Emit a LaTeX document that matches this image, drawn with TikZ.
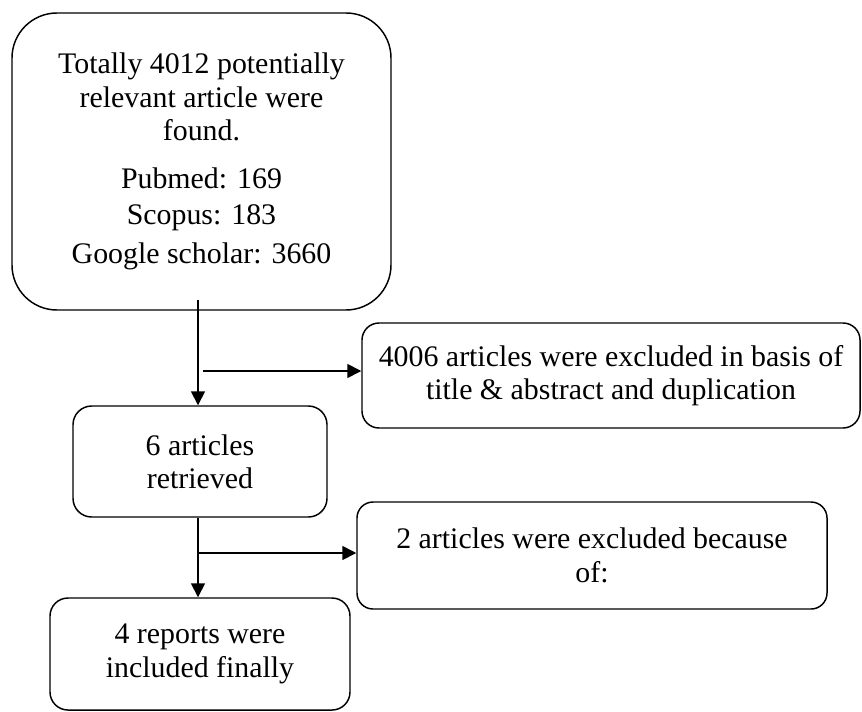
\documentclass[tikz,border=0pt]{standalone}
\usepackage{fontspec}
\setmainfont{Liberation Serif}
\usetikzlibrary{arrows.meta}
\begin{document}
\begin{tikzpicture}[x=0.75pt,y=-0.75pt,
  box/.style={draw, line width=1.1pt, align=center, inner sep=0pt,
    font=\fontsize{22.4}{25}\selectfont},
  conn/.style={line width=1.2pt, -{Triangle[length=10.5pt,width=10.5pt]}}]
\useasboundingbox (0,0) rectangle (862,711);
\node[box, rounded corners=33.75pt, minimum width=284.25pt, minimum height=222.75pt] (b1) at (201.5,161.5)
  {Totally 4012 potentially\\relevant article were\\found.\\[11pt]Pubmed: 169\\[2pt]Scopus: 183\\[4pt]Google scholar: 3660};
\node[box, rounded corners=12.75pt, minimum width=373.5pt, minimum height=78.75pt] (b3) at (611,375.5)
  {4006 articles were excluded in basis of\\title \& abstract and duplication};
\node[box, rounded corners=14pt, minimum width=190.5pt, minimum height=83.25pt] (b2) at (200,461.5)
  {6 articles\\retrieved};
\node[box, rounded corners=12pt, minimum width=352.5pt, minimum height=80.25pt] (b5) at (592,555.5)
  {2 articles were excluded because\\of:};
\node[box, rounded corners=13.5pt, minimum width=225pt, minimum height=84pt] (b4) at (200,654)
  {4 reports were\\included finally};
\coordinate (s1) at (198,300);
\coordinate (h1) at (203,371);
\coordinate (h2) at (198,553);
\draw[conn] (s1) -- (s1 |- b2.north);
\draw[conn] (h1) -- (h1 -| b3.west);
\draw[conn] (s1 |- b2.south) -- (s1 |- b4.north);
\draw[conn] (h2) -- (h2 -| b5.west);
\end{tikzpicture}
\end{document}
